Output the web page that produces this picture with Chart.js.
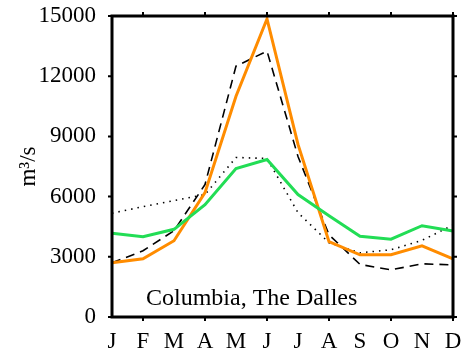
<!DOCTYPE html>
<html>
<head>
<meta charset="utf-8">
<script src="https://cdn.jsdelivr.net/npm/chart.js@4"></script>
<style>
  html, body { margin: 0; padding: 0; background: #fff; }
  #wrap { width: 465px; height: 353px; }
</style>
</head>
<body>
<div id="wrap"><canvas id="myChart"></canvas></div>
<script>
const meses = ['J','F','M','A','M','J','J','A','S','O','N','D'];
const naranja = [2700, 2900, 3800, 6200, 11000, 14850, 8600, 3750, 3100, 3100, 3550, 2900];
const verde = [4170, 4000, 4370, 5600, 7400, 7850, 6100, 5050, 4020, 3880, 4550, 4290];
const guiones = [2700, 3300, 4300, 6600, 12500, 13250, 8000, 4100, 2620, 2350, 2650, 2600];
const puntos = [5170, 5500, 5800, 6100, 7950, 7900, 5200, 3700, 3200, 3350, 3820, 4580];
const yTicks = [0, 3000, 6000, 9000, 12000, 15000];
const rotulo = 'Columbia, The Dalles';

const fuente = 'Liberation Serif';

// marco negro grueso + marcas cortas hacia afuera + letras de los meses
const marco = {
  id: 'marco',
  afterDraw(chart) {
    const { ctx, chartArea: a, scales } = chart;
    ctx.save();
    ctx.strokeStyle = '#000';
    ctx.lineWidth = 2;
    yTicks.forEach(v => {
      const y = scales.y.getPixelForValue(v);
      ctx.beginPath();
      ctx.moveTo(a.left - 4, y); ctx.lineTo(a.left, y);
      ctx.moveTo(a.right, y); ctx.lineTo(a.right + 4, y);
      ctx.stroke();
    });
    meses.forEach((m, i) => {
      if (i % 2 === 0) return;
      const x = scales.x.getPixelForValue(i);
      ctx.beginPath();
      ctx.moveTo(x, a.bottom); ctx.lineTo(x, a.bottom + 4);
      ctx.moveTo(x, a.top - 4); ctx.lineTo(x, a.top);
      ctx.stroke();
    });
    ctx.lineWidth = 3;
    ctx.strokeRect(a.left, a.top, a.right - a.left, a.bottom - a.top);
    ctx.fillStyle = '#000';
    ctx.textBaseline = 'alphabetic';
    ctx.font = '23px "' + fuente + '"';
    ctx.textAlign = 'center';
    meses.forEach((m, i) => {
      ctx.fillText(m, scales.x.getPixelForValue(i), a.bottom + 31);
    });
    ctx.textAlign = 'left';
    ctx.font = '24px "' + fuente + '"';
    ctx.fillText(rotulo, a.left + 34, a.bottom - 12);
    ctx.restore();
  }
};

const ctx = document.getElementById('myChart').getContext('2d');
const myChart = new Chart(ctx, {
  type: 'line',
  data: {
    labels: meses,
    datasets: [
      { data: verde, borderColor: 'rgb(34, 221, 85)', borderWidth: 3, pointRadius: 0, tension: 0 },
      { data: naranja, borderColor: 'rgb(255, 140, 0)', borderWidth: 3, pointRadius: 0, tension: 0 },
      { data: guiones, borderColor: '#000', borderWidth: 1.6, borderDash: [9, 6], pointRadius: 0, tension: 0 },
      { data: puntos, borderColor: '#000', borderWidth: 1.6, borderDash: [1.5, 5], pointRadius: 0, tension: 0 }
    ]
  },
  options: {
    responsive: true,
    maintainAspectRatio: false,
    animation: false,
    layout: { padding: { left: 0, top: 16, right: 12, bottom: 0 } },
    plugins: { legend: { display: false }, tooltip: { enabled: false } },
    scales: {
      x: {
        grid: { display: false, drawTicks: false },
        border: { display: false },
        ticks: { display: false },
        afterFit(scale) {
          scale.height = 36;
          scale.paddingLeft = 0;
          scale.paddingRight = 0;
        }
      },
      y: {
        min: 0, max: 15000,
        grid: { display: false },
        border: { display: false },
        afterBuildTicks(scale) { scale.ticks = yTicks.map(v => ({ value: v })); },
        ticks: {
          color: '#000', font: { family: fuente, size: 23 }, padding: 8,
          callback: v => String(v)
        },
        title: {
          display: true, text: 'm³/s', color: '#000',
          font: { family: fuente, size: 23 }, padding: { top: 15, bottom: 0 }
        },
        afterFit(scale) {
          scale.width = 112;
          scale.paddingTop = 0;
          scale.paddingBottom = 0;
        }
      }
    }
  },
  plugins: [marco]
});
</script>
</body>
</html>
